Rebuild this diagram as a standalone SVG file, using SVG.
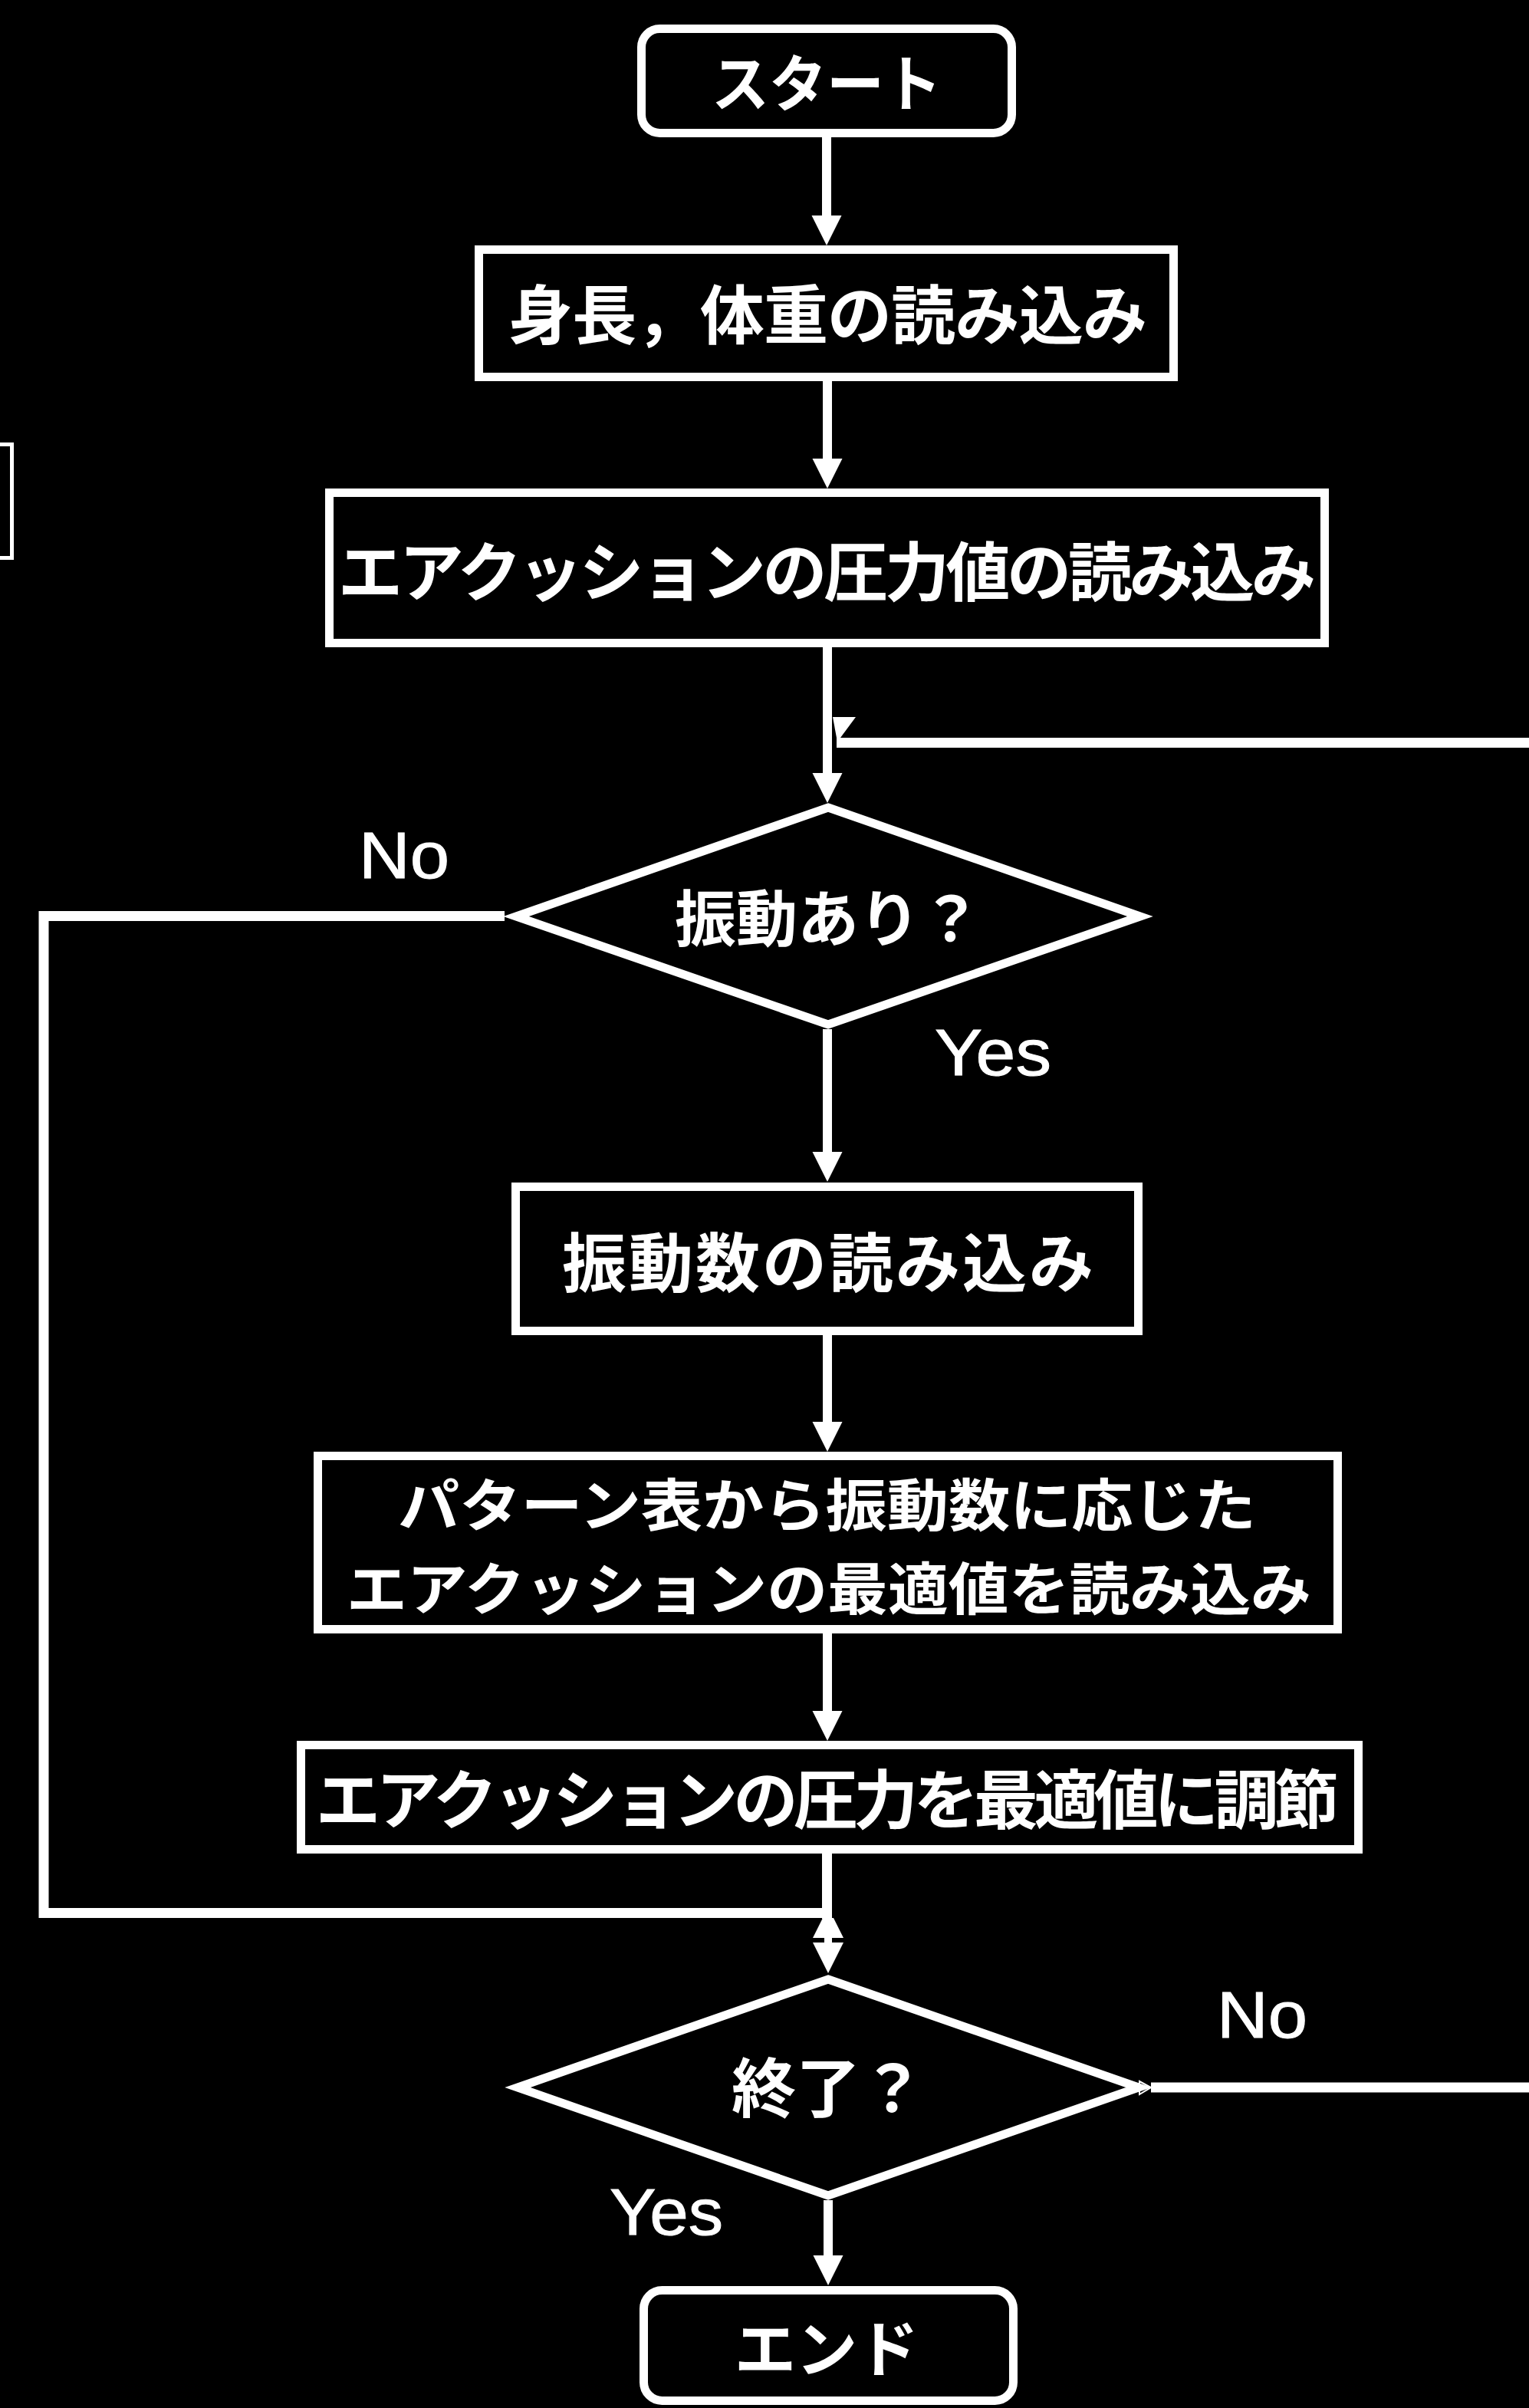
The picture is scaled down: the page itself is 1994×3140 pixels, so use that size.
<svg xmlns="http://www.w3.org/2000/svg" width="1994" height="3140" viewBox="0 0 1994 3140">
<style>
.bg{fill:#000}
.box{fill:#000;stroke:#fff;stroke-width:11}
.dia{fill:#000;stroke:#fff;stroke-width:11;stroke-linejoin:miter}
.ln{fill:none;stroke:#fff;stroke-width:12}
.lp{fill:none;stroke:#fff;stroke-width:13}
.t{font-family:"Noto Sans CJK JP","Noto Sans CJK SC",sans-serif;font-weight:bold;font-size:80px;fill:#fff;text-anchor:middle}
.tl{font-size:84px}
.ts{font-size:74px}
.l{font-family:"Liberation Sans",Arial,sans-serif;font-size:85px;fill:#fff;stroke:#fff;stroke-width:1}
</style>
<defs>
<marker id="ah" markerUnits="userSpaceOnUse" markerWidth="42" markerHeight="42" viewBox="0 -21 42 42" refX="0" refY="0" orient="auto">
<path d="M0,-19.5 L39,0 L0,19.5 Z" fill="#fff"/>
</marker>
</defs>
<rect class="bg" x="0" y="0" width="1994" height="3140"/>

<g id="edge-fragment">
<rect x="-100" y="579.5" width="115.5" height="148" fill="none" stroke="#fff" stroke-width="5"/>
</g>

<g id="connectors">
<line class="ln" x1="1078" y1="179" x2="1078" y2="281" marker-end="url(#ah)"/>
<line class="ln" x1="1079" y1="497" x2="1079" y2="598" marker-end="url(#ah)"/>
<line class="ln" x1="1079" y1="844" x2="1079" y2="1008" marker-end="url(#ah)"/>
<path class="lp" d="M1994,968.5 H1091"/>
<polygon points="1086,935 1116,935 1096,962 1091,962" fill="#fff"/>
<line class="ln" x1="1079" y1="1342" x2="1079" y2="1502" marker-end="url(#ah)"/>
<path class="lp" d="M658,1194.5 H57 V2494.5 H1078"/>
<line class="ln" x1="1079" y1="1741" x2="1079" y2="1854" marker-end="url(#ah)"/>
<line class="ln" x1="1079" y1="2130" x2="1079" y2="2231" marker-end="url(#ah)"/>
<line class="lp" x1="1078.5" y1="2417" x2="1078.5" y2="2502"/>
<polygon points="1073,2501 1087,2501 1100,2527 1060,2527" fill="#fff"/>
<rect x="1075" y="2526" width="10" height="8" fill="#fff"/>
<polygon points="1060,2533 1100,2533 1080,2573" fill="#fff"/>
<line class="ln" x1="1080" y1="2869" x2="1080" y2="2941" marker-end="url(#ah)"/>
<path class="lp" d="M1501,2722 H1994"/>
<polygon points="1486,2714 1501,2722 1486,2731" fill="none" stroke="#fff" stroke-width="2"/>
</g>

<g id="start">
<rect class="box" x="836.5" y="37.5" width="483" height="136" rx="24"/>
<text class="t" x="1078" y="138" textLength="300" lengthAdjust="spacingAndGlyphs">スタート</text>
</g>

<g id="read-height-weight">
<rect class="box" x="624.5" y="325.5" width="906" height="166"/>
<text class="t tl" x="1079.5" y="442" textLength="833" lengthAdjust="spacing">身長，体重の読み込み</text>
</g>

<g id="read-pressure">
<rect class="box" x="429.5" y="642.5" width="1298" height="196"/>
<text class="t tl" x="1078.5" y="777" textLength="1275" lengthAdjust="spacing">エアクッションの圧力値の読み込み</text>
</g>

<g id="vibration-decision">
<polygon class="dia" points="1080,1053 1487,1195 1080,1336 673,1195"/>
<text class="t" x="1080" y="1227">振動あり？</text>
</g>

<g id="label-no-1"><text class="l" x="468" y="1145" textLength="118" lengthAdjust="spacingAndGlyphs">No</text></g>
<g id="label-yes-1"><text class="l" x="1219" y="1402" textLength="152" lengthAdjust="spacingAndGlyphs">Yes</text></g>

<g id="read-frequency">
<rect class="box" x="672.5" y="1547.5" width="812" height="188"/>
<text class="t tl" x="1079.5" y="1678" textLength="693" lengthAdjust="spacing">振動数の読み込み</text>
</g>

<g id="read-optimal">
<rect class="box" x="414.5" y="1898.5" width="1330" height="226"/>
<text class="t ts" x="1078.5" y="1990" textLength="1119" lengthAdjust="spacingAndGlyphs">パターン表から振動数に応じた</text>
<text class="t ts" x="1081" y="2099" textLength="1258" lengthAdjust="spacingAndGlyphs">エアクッションの最適値を読み込み</text>
</g>

<g id="adjust-pressure">
<rect class="box" x="392.5" y="2275.5" width="1379" height="136"/>
<text class="t tl" x="1079" y="2378" textLength="1334" lengthAdjust="spacing">エアクッションの圧力を最適値に調節</text>
</g>

<g id="end-decision">
<polygon class="dia" points="1080,2581 1485,2722 1080,2863 675,2722"/>
<text class="t tl" x="1080" y="2754">終了？</text>
</g>

<g id="label-no-2"><text class="l" x="1587" y="2657" textLength="118" lengthAdjust="spacingAndGlyphs">No</text></g>
<g id="label-yes-2"><text class="l" x="795" y="2914" textLength="148" lengthAdjust="spacingAndGlyphs">Yes</text></g>

<g id="end">
<rect class="box" x="839.5" y="2986.5" width="482" height="144" rx="24"/>
<text class="t" x="1078" y="3092">エンド</text>
</g>
</svg>
